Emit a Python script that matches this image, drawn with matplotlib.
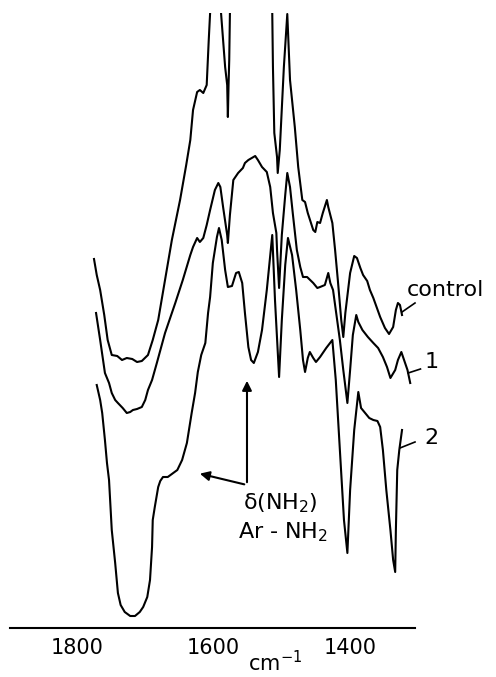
import numpy as np
import matplotlib.pyplot as plt

plt.rcParams["font.family"] = ["DejaVu Sans"]
plt.rcParams["xtick.labelsize"] = 15

# wavenumbers (cm-1) and offset transmittance (arb. units) for each trace
wn_control = [1775, 1771, 1766, 1760, 1755, 1749, 1741, 1734, 1727, 1719, 1712, 1705,
              1696, 1689, 1681, 1671, 1661, 1649, 1640, 1634, 1630, 1624, 1620, 1615,
              1610, 1607, 1605, 1601, 1593, 1589, 1583, 1580, 1579, 1578, 1577, 1576,
              1571, 1520, 1514, 1513, 1511, 1507, 1506, 1503, 1497, 1492, 1488, 1481,
              1476, 1470, 1466, 1462, 1454, 1451, 1448, 1444, 1440, 1434, 1432, 1426,
              1422, 1418, 1413, 1410, 1407, 1400, 1394, 1390, 1385, 1381, 1375, 1371,
              1366, 1356, 1349, 1343, 1337, 1333, 1330, 1327, 1324]
t_control = [369, 353, 338, 313, 288, 273, 272, 268, 270, 269, 266, 267,
             273, 288, 308, 348, 388, 428, 463, 488, 518, 536, 538, 535,
             543, 588, 615, 668, 668, 615, 561, 543, 511, 543, 568, 615,
             668, 668, 615, 561, 495, 471, 455, 478, 561, 614, 548, 501,
             461, 428, 426, 415, 398, 396, 406, 405, 415, 428, 421, 405,
             378, 348, 308, 291, 315, 355, 372, 370, 360, 353, 347, 338,
             330, 311, 300, 294, 301, 318, 325, 323, 313]

wn_1 = [1772, 1766, 1759, 1753, 1749, 1744, 1740, 1733, 1727, 1722, 1718, 1712,
        1705, 1700, 1696, 1690, 1683, 1671, 1656, 1645, 1634, 1630, 1624, 1620,
        1615, 1610, 1605, 1598, 1593, 1590, 1586, 1580, 1579, 1576, 1571, 1564,
        1557, 1554, 1549, 1544, 1539, 1535, 1529, 1522, 1517, 1513, 1508, 1507,
        1504, 1500, 1495, 1492, 1488, 1484, 1478, 1473, 1469, 1463, 1454, 1448,
        1444, 1437, 1432, 1429, 1425, 1419, 1415, 1410, 1404, 1400, 1396, 1391,
        1388, 1382, 1374, 1366, 1359, 1352, 1346, 1341, 1334, 1330, 1325, 1321,
        1316, 1312]
t_1 = [315, 288, 255, 245, 235, 228, 225, 220, 215, 216, 218, 219,
       221, 228, 238, 248, 265, 295, 325, 348, 373, 381, 390, 386,
       390, 403, 418, 438, 445, 441, 421, 393, 385, 413, 448, 455,
       460, 465, 468, 470, 472, 468, 461, 456, 441, 415, 395, 378,
       340, 393, 433, 455, 441, 415, 378, 361, 351, 351, 345, 340,
       341, 343, 355, 345, 338, 308, 288, 258, 225, 258, 293, 313,
       306, 298, 291, 285, 280, 271, 261, 250, 258, 268, 276, 268,
       258, 245]

wn_2 = [1771, 1766, 1763, 1759, 1756, 1753, 1749, 1744, 1740, 1736, 1730, 1722,
        1715, 1708, 1703, 1697, 1693, 1690, 1689, 1686, 1681, 1678, 1674, 1667,
        1661, 1653, 1646, 1639, 1632, 1627, 1623, 1618, 1612, 1608, 1605, 1601,
        1595, 1592, 1588, 1583, 1579, 1573, 1567, 1563, 1558, 1554, 1549, 1545,
        1541, 1535, 1529, 1522, 1514, 1510, 1504, 1500, 1495, 1491, 1485, 1479,
        1473, 1469, 1466, 1462, 1459, 1454, 1450, 1444, 1435, 1426, 1421, 1415,
        1409, 1404, 1400, 1394, 1388, 1384, 1378, 1372, 1366, 1360, 1356, 1352,
        1347, 1341, 1337, 1334, 1333, 1331, 1328, 1324]
t_2 = [243, 228, 215, 188, 165, 148, 98, 65, 35, 23, 16, 12,
       12, 16, 21, 31, 48, 81, 108, 121, 141, 147, 151, 151,
       154, 158, 168, 185, 215, 235, 256, 273, 285, 315, 331, 365,
       391, 400, 388, 358, 341, 342, 355, 356, 345, 315, 281, 268,
       265, 276, 298, 338, 393, 328, 251, 308, 363, 390, 373, 338,
       298, 268, 256, 270, 276, 270, 266, 271, 280, 288, 248, 178,
       108, 75, 138, 198, 236, 220, 215, 210, 208, 207, 201, 178,
       138, 98, 68, 56, 98, 158, 178, 198]

tick_values = [1800, 1600, 1400]
tick_labels = ["1800", "1600", "1400"]

fig = plt.figure(figsize=(4.96, 6.77), dpi=100)
ax = fig.add_axes([10 / 496, 49 / 677, 405 / 496, 615 / 677])

for _wn, _t in [(wn_control, t_control), (wn_1, t_1), (wn_2, t_2)]:
    ax.plot(_wn, _t, color="black", linewidth=1.5, solid_joinstyle="round")

ax.set_xlim(1898, 1305)
ax.set_ylim(0, 615)

for side in ["top", "left", "right"]:
    ax.spines[side].set_visible(False)
ax.spines["bottom"].set_linewidth(1.5)
ax.set_yticks([])
ax.set_xticks(tick_values)
ax.set_xticklabels(tick_labels)
ax.tick_params(axis="x", length=0, pad=7)
ax.text(1510, -35, "cm$^{-1}$", fontsize=15, ha="center", va="center", clip_on=False)

# trace labels with short leader lines
_labels = [
    ("control", (1324, 316), (1305, 325), (1317, 338)),
    ("1", (1315, 255), (1297, 259), (1280, 266)),
    ("2", (1327, 180), (1305, 186), (1281, 190)),
]
for _name, _start, _end, _pos in _labels:
    ax.plot([_start[0], _end[0]], [_start[1], _end[1]], color="black",
            linewidth=1.2, clip_on=False)
    ax.text(_pos[0], _pos[1], _name, fontsize=16, ha="left" if _name == "control" else "center",
            va="center", clip_on=False)

# arrows marking the NH2 deformation band
_tail = (1551, 143)
ax.annotate("", xy=(1551, 250), xytext=_tail,
            arrowprops=dict(arrowstyle="-|>", color="black", lw=1.5, mutation_scale=14))
ax.annotate("", xy=(1624, 155), xytext=_tail,
            arrowprops=dict(arrowstyle="-|>", color="black", lw=1.5, mutation_scale=14))
ax.text(1503, 125, r"δ(NH$_2$)", fontsize=16, ha="center", va="center")
ax.text(1498, 96, r"Ar - NH$_2$", fontsize=16, ha="center", va="center")

plt.savefig("out.png", dpi=100)
